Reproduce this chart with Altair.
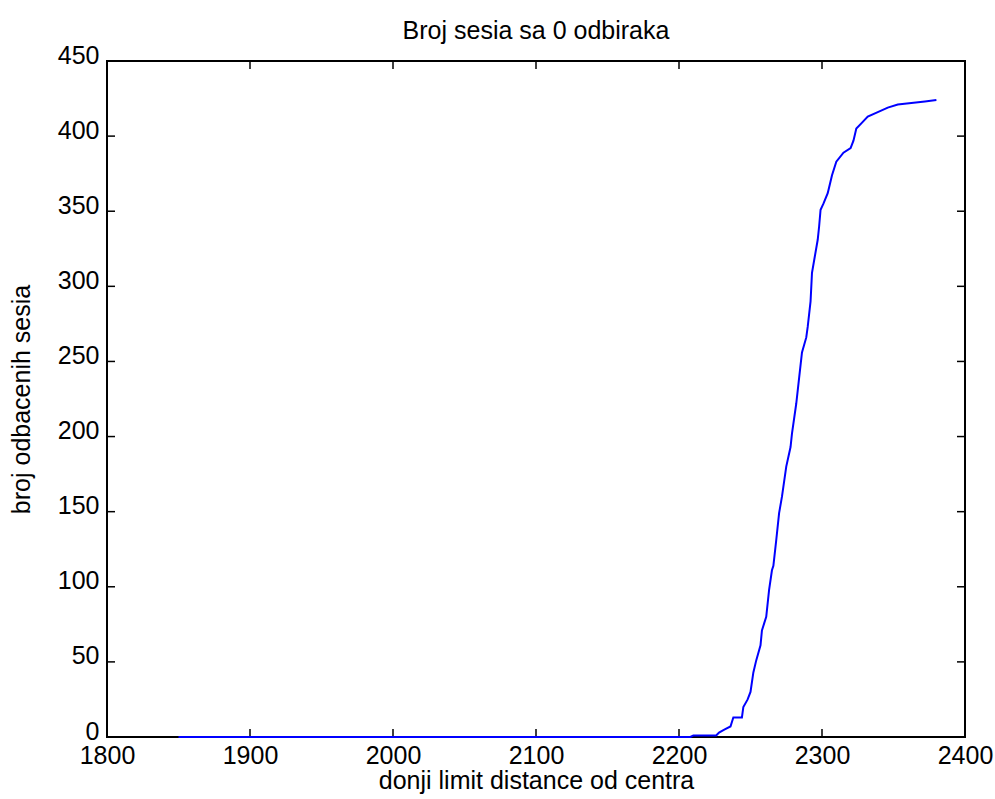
import altair as alt
import pandas as pd

# Cumulative count of rejected sessions vs. lower distance limit
limit = [1850, 2208, 2210, 2226, 2228, 2232, 2236, 2238, 2244, 2245, 2248, 2250,
         2252, 2254, 2257, 2258, 2261, 2263, 2265, 2266, 2268, 2270, 2272, 2275,
         2278, 2279, 2282, 2284, 2286, 2289, 2290, 2292, 2293, 2295, 2297, 2298,
         2299, 2301, 2304, 2305, 2307, 2310, 2315, 2320, 2322, 2324, 2328, 2332,
         2339, 2346, 2353, 2372, 2380]
rejected = [0, 0, 1, 1, 3, 5, 7, 13, 13, 20, 25, 30,
            43, 51, 61, 71, 80, 98, 111, 114, 131, 149, 160, 180,
            193, 202, 222, 239, 256, 266, 273, 290, 309, 320, 331, 340,
            351, 355, 362, 366, 374, 383, 389, 392, 397, 405, 409, 413,
            416, 419, 421, 423, 424]

x_ticks = [1800, 1900, 2000, 2100, 2200, 2300, 2400]
y_ticks = [0, 50, 100, 150, 200, 250, 300, 350, 400, 450]

W, H = 858, 676
FONT = "Liberation Sans"
FS = 25
TL = 8  # inward tick length

df = pd.DataFrame({"limit": limit, "rejected": rejected})
xt = pd.DataFrame({"v": x_ticks})
yt = pd.DataFrame({"v": y_ticks})

xscale = alt.Scale(domain=[1800, 2400], nice=False, zero=False)
yscale = alt.Scale(domain=[0, 450], nice=False)

line = alt.Chart(df).mark_line(color="#0000FF", strokeWidth=2).encode(
    x=alt.X("limit:Q", scale=xscale,
            axis=alt.Axis(values=x_ticks, title="donji limit distance od centra",
                          domain=False, ticks=False, grid=False, labelPadding=6,
                          labelFlush=False, labelOverlap=False,
                          labelFontSize=FS, labelFont=FONT, labelColor="black",
                          titleFontSize=FS, titleFont=FONT, titleFontWeight="normal",
                          titleColor="black", titleBaseline="alphabetic", titleY=51,
                          format="d")),
    y=alt.Y("rejected:Q", scale=yscale,
            axis=alt.Axis(values=y_ticks, title="broj odbacenih sesia",
                          domain=False, ticks=False, grid=False, labelPadding=8,
                          labelOffset=-6, labelFlush=False, labelOverlap=False,
                          labelFontSize=FS, labelFont=FONT, labelColor="black",
                          titleFontSize=FS, titleFont=FONT, titleFontWeight="normal",
                          titleColor="black", titleBaseline="alphabetic", titleX=-78,
                          format="d")),
)

tick_style = dict(color="black", strokeWidth=1.5)
bottom_ticks = alt.Chart(xt).mark_rule(**tick_style).encode(
    x=alt.X("v:Q", scale=xscale), y=alt.value(H), y2=alt.value(H - TL))
top_ticks = alt.Chart(xt).mark_rule(**tick_style).encode(
    x=alt.X("v:Q", scale=xscale), y=alt.value(0), y2=alt.value(TL))
left_ticks = alt.Chart(yt).mark_rule(**tick_style).encode(
    y=alt.Y("v:Q", scale=yscale), x=alt.value(0), x2=alt.value(TL))
right_ticks = alt.Chart(yt).mark_rule(**tick_style).encode(
    y=alt.Y("v:Q", scale=yscale), x=alt.value(W), x2=alt.value(W - TL))

chart = alt.layer(bottom_ticks, top_ticks, left_ticks, right_ticks, line).properties(
    width=W, height=H,
    title=alt.TitleParams("Broj sesia sa 0 odbiraka", fontSize=FS, font=FONT,
                          fontWeight="normal", color="black", anchor="middle",
                          baseline="bottom", offset=4, dy=30),
    autosize=alt.AutoSizeParams(type="none"),
    padding={"left": 107, "top": 61, "right": 30, "bottom": 62},
    background="white",
).configure_view(stroke="black", strokeWidth=2)

chart.save("out.html", embed_options={"renderer": "svg", "actions": False})
